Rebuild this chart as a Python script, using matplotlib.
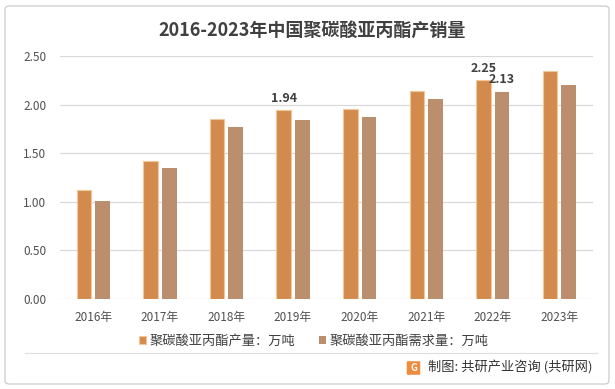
import matplotlib
matplotlib.use("Agg")
import matplotlib.pyplot as plt
import numpy as np
from matplotlib.patches import FancyBboxPatch

plt.rcParams['font.family'] = ['Noto Sans CJK SC', 'DejaVu Sans']

years = ['2016年', '2017年', '2018年', '2019年', '2020年', '2021年', '2022年', '2023年']
production = [1.12, 1.42, 1.85, 1.94, 1.95, 2.14, 2.25, 2.35]
demand = [1.01, 1.35, 1.77, 1.84, 1.87, 2.06, 2.13, 2.20]
prod_labels = {3: '1.94', 6: '2.25'}
demand_labels = {6: '2.13'}
yticks = [0.0, 0.5, 1.0, 1.5, 2.0, 2.5]
title = '2016-2023年中国聚碳酸亚丙酯产销量'
legend_names = ['聚碳酸亚丙酯产量：万吨', '聚碳酸亚丙酯需求量：万吨']
source = '制图: 共研产业咨询 (共研网)'

c_prod = '#D28B4C'
c_dem = '#BB8E6E'
txt = '#404040'

fig = plt.figure(figsize=(6.15, 3.89), dpi=100)
ax = fig.add_axes([0.0976, 0.232, 0.866, 0.624])

x = np.arange(len(years))
w = 0.22
off = 0.14
b1 = ax.bar(x - off, production, w, color=c_prod, edgecolor='#F2C79A', linewidth=0.8,
            label=legend_names[0], zorder=3)
b2 = ax.bar(x + off, demand, w, color=c_dem, edgecolor='none',
            label=legend_names[1], zorder=3)

for i, t in prod_labels.items():
    ax.annotate(t, (x[i] - off, production[i]), xytext=(0, 4), textcoords='offset points',
                ha='center', va='bottom', fontsize=9, color=txt, fontweight='bold')
for i, t in demand_labels.items():
    ax.annotate(t, (x[i] + off, demand[i]), xytext=(0, 4), textcoords='offset points',
                ha='center', va='bottom', fontsize=9, color=txt, fontweight='bold')

ax.set_xlim(-0.5, len(years) - 0.5)
ax.set_ylim(0, 2.5)
ax.set_yticks(yticks)
ax.set_yticklabels([f'{v:.2f}' for v in yticks], fontsize=8.5, color='#505050')
ax.set_xticks(x)
ax.set_xticklabels(years, fontsize=8.5, color='#505050')
ax.tick_params(axis='x', length=0, pad=9)
ax.tick_params(axis='y', length=0, pad=10)
ax.grid(axis='y', color='#D9D9D9', linewidth=0.9, zorder=0)
for s in ax.spines.values():
    s.set_visible(False)

fig.text(0.508, 0.922, title, ha='center', va='center', fontsize=13,
         fontweight='bold', color=txt)

leg = fig.legend(handles=[b1, b2], loc='center', bbox_to_anchor=(0.51, 0.123), ncol=2,
                 frameon=False, fontsize=9.5, handlelength=0.55, handleheight=0.55,
                 handletextpad=0.25, columnspacing=1.8)
for t in leg.get_texts():
    t.set_color(txt)

# separator line
fig.add_artist(plt.Line2D([0.04, 0.97], [1 - 353 / 389, 1 - 353 / 389],
                          transform=fig.transFigure, color='#E0E0E0', linewidth=0.9))

# source with small logo
logo = FancyBboxPatch((408 / 615, 1 - 374 / 389), 11 / 615, 12 / 389,
                      boxstyle='round,pad=0.002', transform=fig.transFigure,
                      facecolor='#F08A3C', edgecolor='none')
fig.add_artist(logo)
fig.text(413.5 / 615, 1 - 368 / 389, 'G', ha='center', va='center', fontsize=7,
         fontweight='bold', color='white')
fig.text(428 / 615, 1 - 368 / 389, source, ha='left', va='center', fontsize=9.5, color='#333333')

# outer frame
frame = FancyBboxPatch((5 / 615, 5 / 389), 604 / 615, 378 / 389,
                       boxstyle='round,pad=0,rounding_size=0.008', transform=fig.transFigure,
                       facecolor='none', edgecolor='#D0D0D0', linewidth=1.0)
fig.add_artist(frame)

fig.savefig('out.png', dpi=100, facecolor='white')
